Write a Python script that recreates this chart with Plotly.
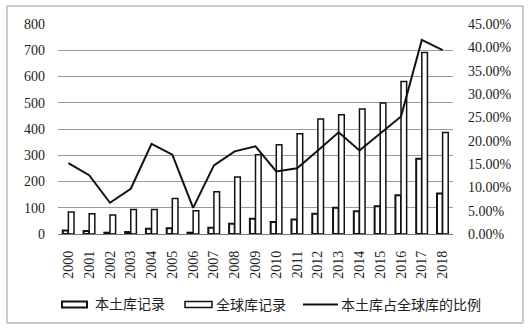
import plotly.graph_objects as go

# Yearly records: local database, global database, and local share of global
years = [str(y) for y in range(2000, 2019)]
local_records = [13, 11, 5, 8, 20, 22, 5, 24, 39, 58, 46, 55, 77, 100, 87, 106, 148, 287, 154]
global_records = [84, 77, 72, 93, 93, 135, 89, 161, 217, 302, 340, 382, 438, 454, 476, 499, 581, 691, 387]
local_share = [0.152, 0.126, 0.067, 0.097, 0.193, 0.170, 0.056, 0.147, 0.177, 0.188,
               0.134, 0.141, 0.179, 0.218, 0.179, 0.216, 0.252, 0.416, 0.394]

left_ticks = list(range(0, 801, 100))
right_ticks = [i * 0.05 for i in range(10)]
right_ticktext = [f"{v * 100:.2f}%" for v in right_ticks]

legend_names = ["本土库记录", "全球库记录", "本土库占全球库的比例"]

W, H = 530, 329
ML, MR, MT, MB = 58, 77, 24, 95
PW, PH = W - ML - MR, H - MT - MB

NUM_FONT = "Liberation Serif"
CJK_FONT = "Liberation Serif, Noto Sans CJK SC"


def px(x):
    return (x - ML) / PW


def py(y):
    return (MT + PH - y) / PH


fig = go.Figure()
fig.add_trace(go.Bar(
    x=years, y=local_records, name=legend_names[0],
    marker=dict(color="white", line=dict(color="#111", width=2)),
    showlegend=False,
))
fig.add_trace(go.Bar(
    x=years, y=global_records, name=legend_names[1],
    marker=dict(color="white", line=dict(color="#111", width=1.5)),
    showlegend=False,
))
fig.add_trace(go.Scatter(
    x=years, y=local_share, name=legend_names[2], yaxis="y2",
    mode="lines", line=dict(color="#111", width=2),
    showlegend=False,
))

shapes = []
annotations = []

# Legend drawn below the axis
leg_y = 304.5
shapes.append(dict(type="rect", xref="paper", yref="paper",
                   x0=px(62), x1=px(87), y0=py(leg_y - 3), y1=py(leg_y + 3),
                   line=dict(color="#111", width=2), fillcolor="white"))
shapes.append(dict(type="rect", xref="paper", yref="paper",
                   x0=px(185), x1=px(212), y0=py(leg_y - 3), y1=py(leg_y + 3),
                   line=dict(color="#111", width=1.5), fillcolor="white"))
shapes.append(dict(type="line", xref="paper", yref="paper",
                   x0=px(303), x1=px(338), y0=py(leg_y), y1=py(leg_y),
                   line=dict(color="#111", width=2)))
for name, xl in zip(legend_names, [93, 214, 339]):
    annotations.append(dict(text=name, xref="paper", yref="paper",
                            x=px(xl), y=py(leg_y), xanchor="left", yanchor="middle",
                            showarrow=False, font=dict(family=CJK_FONT, size=14, color="#222")))

# Outer frame around the chart
shapes.append(dict(type="rect", xref="paper", yref="paper",
                   x0=px(7), x1=px(523), y0=py(6), y1=py(323),
                   line=dict(color="#999", width=1), fillcolor="rgba(0,0,0,0)", layer="below"))

fig.update_layout(
    width=W, height=H,
    margin=dict(l=ML, r=MR, t=MT, b=MB),
    paper_bgcolor="white", plot_bgcolor="white",
    barmode="group", bargap=0.46, bargroupgap=0,
    xaxis=dict(
        type="category", tickangle=-90, showgrid=False, showline=False,
        ticks="", tickfont=dict(family=NUM_FONT, size=14, color="#222"),
        ticklabelstandoff=13,
    ),
    yaxis=dict(
        range=[0, 800], tickvals=left_ticks, showgrid=True, gridcolor="#9a9a9a",
        gridwidth=1, zeroline=True, zerolinecolor="#777", zerolinewidth=1,
        showline=False, ticks="", tickfont=dict(family=NUM_FONT, size=14, color="#222"),
        ticklabelstandoff=12,
    ),
    yaxis2=dict(
        overlaying="y", side="right", range=[0, 0.45], tickvals=right_ticks,
        ticktext=right_ticktext, showgrid=False, zeroline=False, showline=False,
        ticks="", tickfont=dict(family=NUM_FONT, size=14, color="#222"),
        ticklabelstandoff=14,
    ),
    shapes=shapes,
    annotations=annotations,
)

fig.write_html("out.html")
